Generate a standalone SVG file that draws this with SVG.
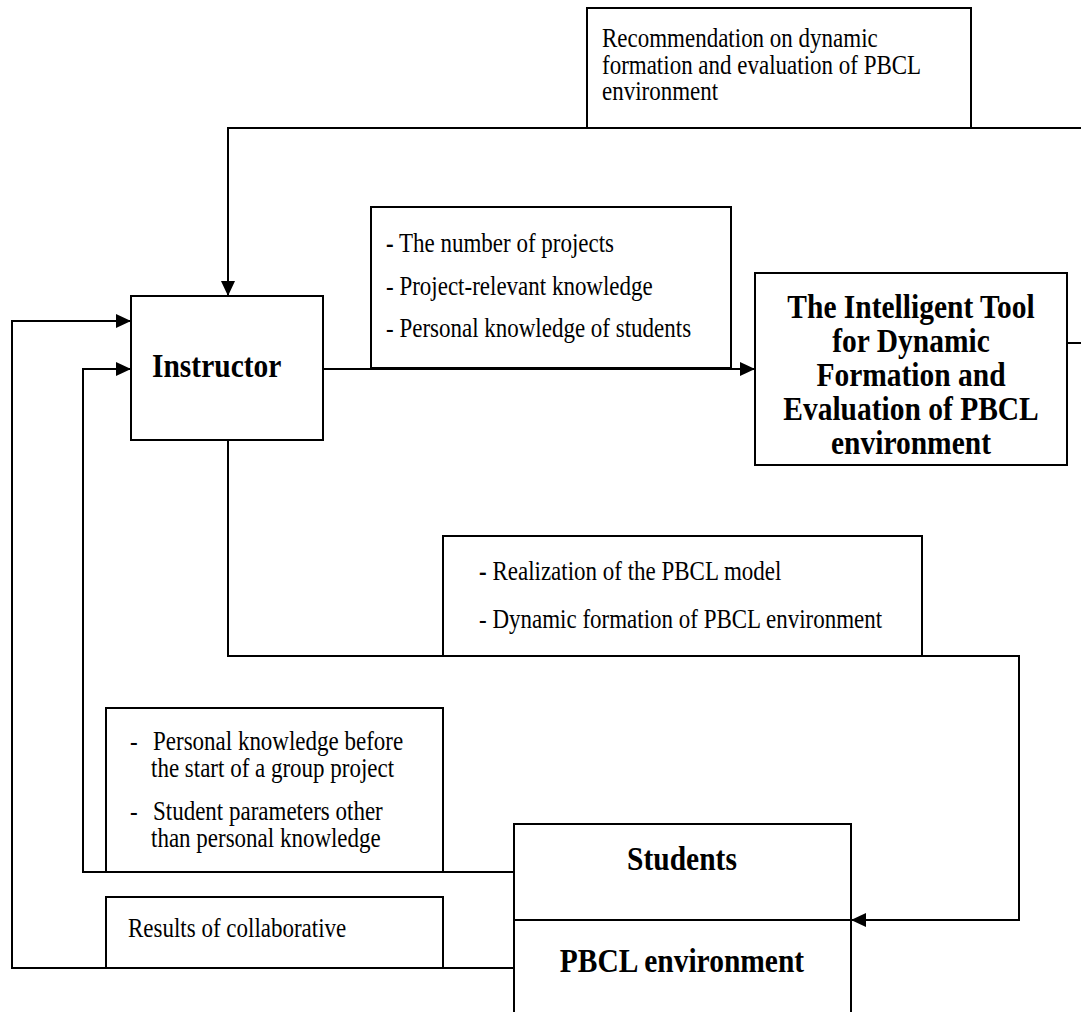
<svg xmlns="http://www.w3.org/2000/svg" width="1081" height="1012" viewBox="0 0 1081 1012">
<style>
.box{fill:#fff;stroke:#000;stroke-width:2}
.ln{fill:none;stroke:#000;stroke-width:2}
.t{font-family:"Liberation Serif","Times New Roman",serif;font-size:23px;fill:#000}
.b{font-family:"Liberation Serif","Times New Roman",serif;font-size:29.5px;font-weight:bold;fill:#000}
.c{text-anchor:middle}
.d{font-weight:bold}
</style>
<defs>
<marker id="ah" markerWidth="15" markerHeight="14" refX="15" refY="7" orient="auto" markerUnits="userSpaceOnUse">
<path d="M0,0 L15,7 L0,14 Z" fill="#000"/>
</marker>
</defs>
<g id="connectors">
<path class="ln" d="M1081,128 L228,128 L228,296" marker-end="url(#ah)"/>
<path class="ln" d="M1067,343 L1081,343"/>
<path class="ln" d="M323,369 L755,369" marker-end="url(#ah)"/>
<path class="ln" d="M228,440 L228,656 L1019,656 L1019,920 L851,920" marker-end="url(#ah)"/>
<path class="ln" d="M514,872 L83,872 L83,369 L131,369" marker-end="url(#ah)"/>
<path class="ln" d="M514,968 L12,968 L12,321 L131,321" marker-end="url(#ah)"/>
</g>
<g id="recommendation">
<rect class="box" x="587" y="8" width="384" height="120"/>
<text class="t" transform="translate(602,47) scale(1,1.15)">Recommendation on dynamic</text>
<text class="t" transform="translate(602,74) scale(1,1.15)">formation and evaluation of PBCL</text>
<text class="t" transform="translate(602,100) scale(1,1.15)">environment</text>
</g>
<g id="instructor">
<rect class="box" x="131" y="296" width="192" height="144"/>
<text class="b" transform="translate(152,377) scale(1,1.15)">Instructor</text>
</g>
<g id="inputs">
<rect class="box" x="371" y="207" width="360" height="161"/>
<text class="t" transform="translate(386,252) scale(1,1.15)"><tspan class="d">-</tspan> The number of projects</text>
<text class="t" transform="translate(386,295) scale(1,1.15)">- Project-relevant knowledge</text>
<text class="t" transform="translate(386,337) scale(1,1.15)">- Personal knowledge of students</text>
</g>
<g id="tool">
<rect class="box" x="755" y="273" width="312" height="192"/>
<text class="b c" transform="translate(911,318) scale(1,1.15)">The Intelligent Tool</text>
<text class="b c" transform="translate(911,352) scale(1,1.15)">for Dynamic</text>
<text class="b c" transform="translate(911,386) scale(1,1.15)">Formation and</text>
<text class="b c" transform="translate(911,420) scale(1,1.15)">Evaluation of PBCL</text>
<text class="b c" transform="translate(911,454) scale(1,1.15)">environment</text>
</g>
<g id="realization">
<rect class="box" x="443" y="536" width="479" height="120"/>
<text class="t" transform="translate(479,580) scale(1,1.15)"><tspan class="d">-</tspan> Realization of the PBCL model</text>
<text class="t" transform="translate(479,628) scale(1,1.15)">- Dynamic formation of PBCL environment</text>
</g>
<g id="parameters">
<rect class="box" x="106" y="708" width="337" height="164"/>
<text class="t" transform="translate(130,750) scale(1,1.15)">-</text>
<text class="t" transform="translate(153,750) scale(1,1.15)">Personal knowledge before</text>
<text class="t" transform="translate(151,777) scale(1,1.15)">the start of a group project</text>
<text class="t" transform="translate(130,820) scale(1,1.15)">-</text>
<text class="t" transform="translate(153,820) scale(1,1.15)">Student parameters other</text>
<text class="t" transform="translate(151,847) scale(1,1.15)">than personal knowledge</text>
</g>
<g id="results">
<rect class="box" x="106" y="897" width="337" height="71"/>
<text class="t" transform="translate(128,937) scale(1,1.15)">Results of collaborative</text>
</g>
<g id="students">
<rect class="box" x="514" y="824" width="337" height="200"/>
<line class="ln" x1="514" y1="920" x2="851" y2="920"/>
<text class="b c" transform="translate(682,870) scale(1,1.15)">Students</text>
<text class="b c" transform="translate(682,972) scale(1,1.15)">PBCL environment</text>
</g>
</svg>
